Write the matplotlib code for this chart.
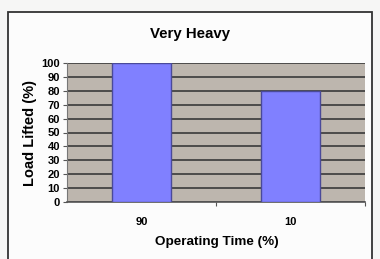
import matplotlib
matplotlib.use("Agg")
import matplotlib.pyplot as plt
from matplotlib.patches import Rectangle

categories = ["90", "10"]
values = [100, 80]
yticks = list(range(0, 101, 10))
title = "Very Heavy"
xlabel = "Operating Time (%)"
ylabel = "Load Lifted (%)"

plt.rcParams['font.family'] = ['Liberation Sans', 'DejaVu Sans']
fig = plt.figure(figsize=(3.8, 2.59), dpi=100)
fig.patch.set_facecolor('#f6f6f5')
frame = Rectangle((8/380, -0.05), (372-8)/380, 0.05 + (259-12)/259,
                  transform=fig.transFigure, facecolor='#fcfcfc',
                  edgecolor='#333333', linewidth=1.3, zorder=-5)
fig.patches.append(frame)

ax = fig.add_axes([67/380, 57/259, (365-67)/380, (202-63)/259])
ax.set_zorder(2)
ax.set_facecolor('#bdb6ae')
x = range(len(categories))
ax.bar(x, values, width=0.4, color='#8080ff', edgecolor='#4a4a9a', linewidth=1.0, zorder=3)
ax.set_xlim(-0.5, 1.5)
ax.set_ylim(0, 100)
ax.set_yticks(yticks)
ax.set_yticklabels([str(t) for t in yticks], fontsize=8, fontweight='bold')
ax.set_xticks(list(x))
ax.set_xticklabels(categories, fontsize=8, fontweight='bold')
ax.tick_params(axis='x', length=0, pad=11)
ax.tick_params(axis='y', length=3, width=0.8, pad=2, color='#555555')
ax.set_xticks([0.5, 1.5], minor=True)
ax.tick_params(axis='x', which='minor', length=3, width=0.8, color='#555555')
ax.grid(axis='y', color='#3a3a3a', linewidth=1.2, zorder=1)
ax.set_axisbelow(True)
for s in ['top', 'right']:
    ax.spines[s].set_visible(False)
ax.spines['left'].set_color('#777777')
ax.spines['bottom'].set_color('#555555')
ax.spines['bottom'].set_linewidth(1.2)

fig.text(190/380, 1 - 34/259, title, ha='center', va='center', fontsize=10.8, fontweight='bold')
fig.text(217/380, 1 - 242/259, xlabel, ha='center', va='center', fontsize=9.7, fontweight='bold')
fig.text(30/380, 1 - 133/259, ylabel, ha='center', va='center', fontsize=10.5, fontweight='bold', rotation=90)

fig.savefig("out.png", dpi=100, facecolor=fig.get_facecolor())
